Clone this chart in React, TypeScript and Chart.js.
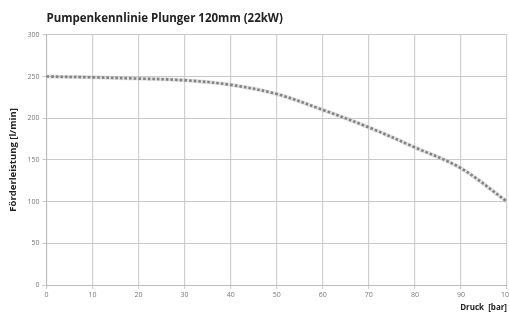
import React, { useEffect, useRef } from "react";
import { Chart, registerables } from "chart.js";

Chart.register(...registerables);

const pressure = [0, 10, 20, 30, 40, 50, 60, 70, 80, 90, 100];
const flow = [250, 249, 247.5, 245.5, 240, 229, 210, 189, 165, 140, 100];
const titleText = "Pumpenkennlinie Plunger 120mm (22kW)";
const yTitle = "Förderleistung [l/min]";
const xTitle = "Druck  [bar]";

export default function App() {
  const ref = useRef<HTMLCanvasElement | null>(null);
  useEffect(() => {
    if (!ref.current) return;
    const pts = pressure.map((x, i) => ({ x, y: flow[i] }));
    const chart = new Chart(ref.current, {
      type: "line",
      data: {
        datasets: [
          {
            data: pts,
            borderColor: "rgba(200,200,200,0.5)",
            borderWidth: 4,
            pointRadius: 0,
            tension: 0.35,
          },
          {
            data: pts,
            borderColor: "#3c3c3c",
            borderWidth: 2.6,
            borderDash: [2.6, 2],
            pointRadius: 0,
            tension: 0.35,
          },
        ],
      },
      options: {
        animation: false,
        responsive: false,
        layout: { padding: { left: 8, right: 2, top: 6, bottom: 0 } },
        plugins: {
          legend: { display: false },
          tooltip: { enabled: false },
          title: {
            display: true,
            text: titleText,
            align: "start",
            fullSize: false,
            color: "#222",
            font: { family: "Open Sans", size: 11.5, weight: "bold" },
            padding: { top: 6, bottom: 9 },
          },
        },
        scales: {
          x: {
            type: "linear",
            min: 0,
            max: 100,
            ticks: {
              stepSize: 10,
              color: "#777",
              font: { family: "Open Sans", size: 7 },
              padding: 2,
              maxRotation: 0,
            },
            grid: { color: "#d0d0d0", tickLength: 4, lineWidth: 1.2 },
            border: { color: "#bbb" },
            title: {
              display: true,
              text: xTitle,
              align: "end",
              color: "#222",
              font: { family: "Open Sans", size: 8, weight: "bold" },
              padding: { top: 2, bottom: 0 },
            },
            afterFit: (s: any) => {
              s.paddingRight = 0;
            },
          },
          y: {
            min: 0,
            max: 300,
            ticks: {
              stepSize: 50,
              color: "#777",
              font: { family: "Open Sans", size: 7 },
              padding: 3,
            },
            grid: { color: "#c8c8c8", tickLength: 4 },
            border: { color: "#bbb" },
            title: {
              display: true,
              text: yTitle,
              color: "#222",
              font: { family: "Open Sans", size: 9.5, weight: "bold" },
              padding: { top: 0, bottom: 5 },
            },
          },
        },
      },
    });
    return () => chart.destroy();
  }, []);
  return (
    <div style={{ position: "fixed", left: 0, top: 0, width: 509, height: 313, background: "#fff" }}>
      <canvas ref={ref} width={509} height={313} />
    </div>
  );
}
